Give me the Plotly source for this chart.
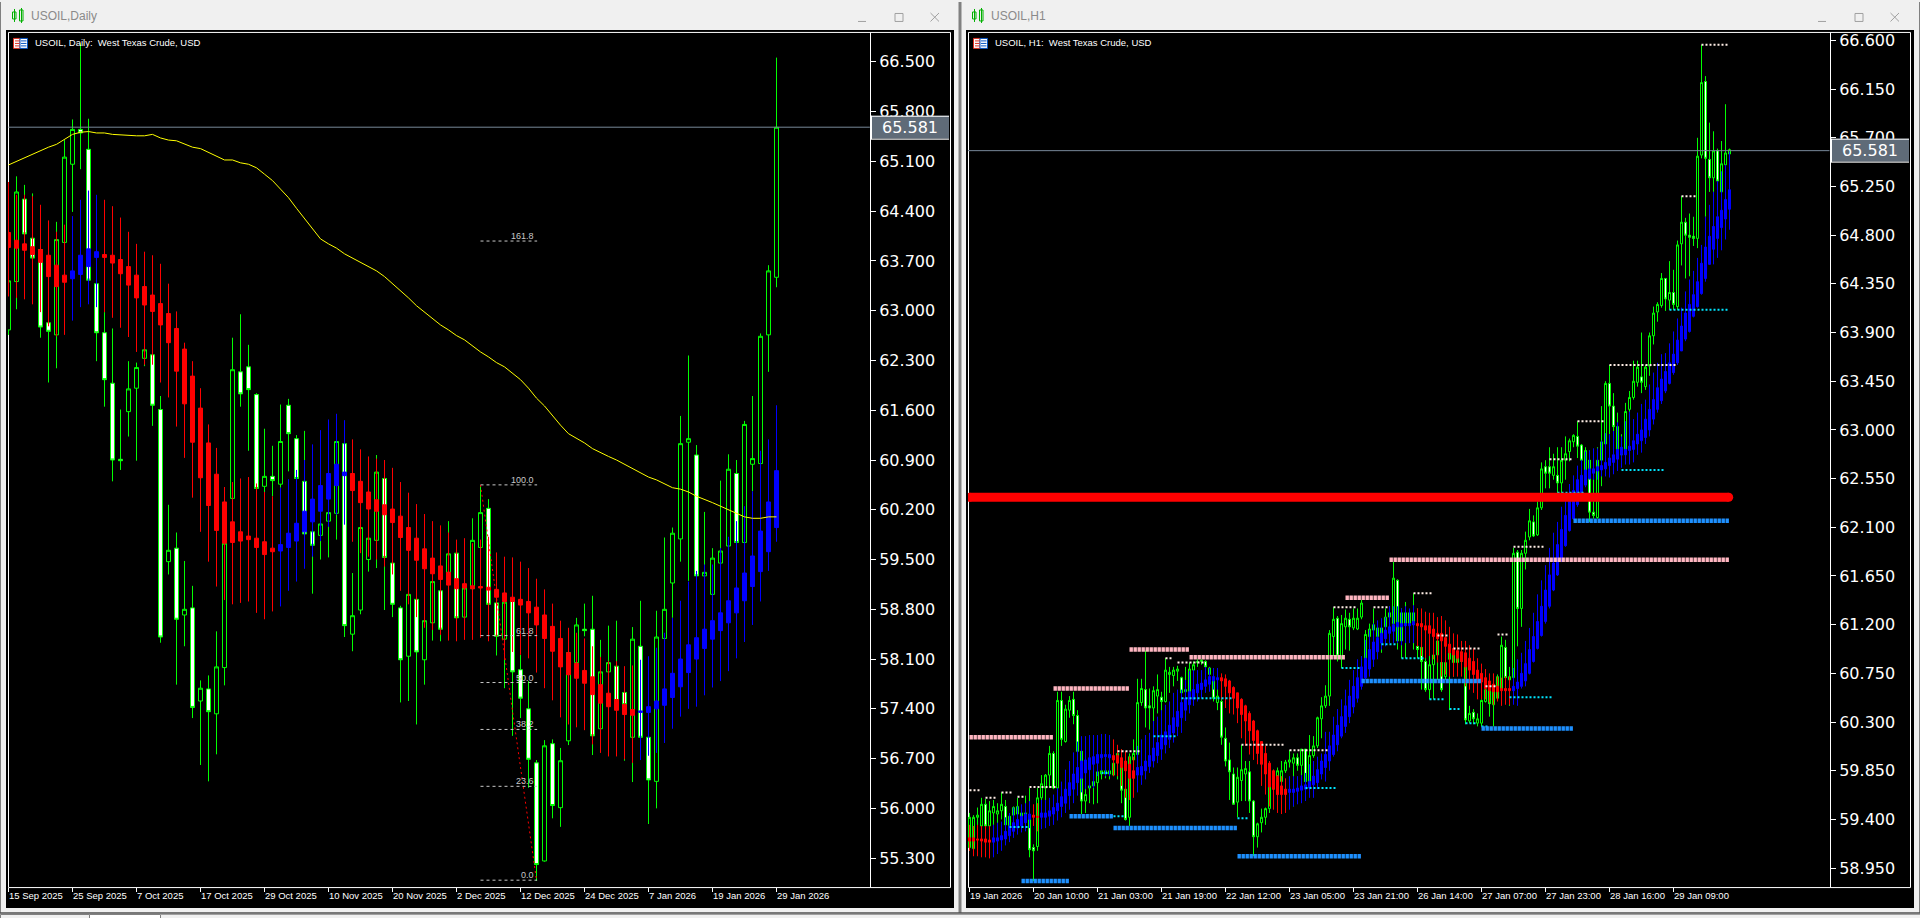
import plotly.graph_objects as go

# ---------- DAILY ----------
d_ticks = [0, 8, 16, 24, 32, 40, 48, 56, 64, 72, 80, 88, 96]
d_labels = ["15 Sep 2025", "25 Sep 2025", "7 Oct 2025", "17 Oct 2025", "29 Oct 2025", "10 Nov 2025", "20 Nov 2025",
            "2 Dec 2025", "12 Dec 2025", "24 Dec 2025", "7 Jan 2026", "19 Jan 2026", "29 Jan 2026"]
d_yticks = [66.5, 65.8, 65.1, 64.4, 63.7, 63.0, 62.3, 61.6, 60.9, 60.2, 59.5, 58.8, 58.1, 57.4, 56.7, 56.0, 55.3]

d_open = [62.73,63.41,64.57,64.02,63.86,62.83,62.66,63.96,65.06,65.55,
65.27,63.38,62.69,61.98,60.91,61.58,61.91,62.33,62.38,61.61,
59.47,59.66,58.72,58.82,57.51,57.68,57.33,57.98,60.36,62.14,
62.21,61.82,60.53,60.67,60.56,61.67,61.20,60.60,59.89,59.84,
60.04,60.15,61.13,58.45,58.79,59.50,59.77,60.64,59.45,58.82,
58.14,58.94,58.09,58.61,59.06,59.32,59.59,58.69,59.09,59.67,
60.22,58.89,58.38,58.91,57.95,57.40,56.64,55.26,56.91,56.01,
56.95,58.05,58.52,58.52,57.12,57.92,58.00,57.63,57.00,58.28,
57.00,56.38,58.39,59.17,59.79,61.15,60.97,59.27,59.01,59.45,
59.69,60.71,59.74,60.84,60.85,62.66,63.47]
d_high = [63.60,64.89,64.77,64.65,64.07,63.60,64.25,65.40,65.69,66.76,
65.70,63.43,62.98,62.75,61.61,62.29,62.27,62.48,62.40,61.80,
60.27,59.88,59.48,59.13,57.80,57.87,58.49,59.75,62.62,62.95,
62.52,61.84,61.34,61.10,61.68,61.76,61.25,61.31,60.00,60.14,
60.32,61.17,61.17,59.31,60.04,59.86,60.97,60.70,59.48,58.85,
59.06,58.99,58.69,59.25,59.11,60.04,59.63,59.15,60.08,60.53,
60.35,58.91,58.94,58.96,58.16,57.79,56.68,56.96,56.97,56.85,
58.21,58.68,58.88,58.99,58.37,58.57,58.64,57.67,58.55,58.92,
57.02,58.78,59.81,59.95,61.52,62.37,61.11,60.17,59.66,60.61,
60.98,60.90,61.45,61.80,62.68,63.64,66.56]
d_low = [62.66,63.02,63.18,63.65,62.62,61.99,62.19,63.88,64.39,64.99,
63.43,62.29,61.65,60.60,60.76,61.23,60.89,62.22,61.38,58.33,
59.29,57.74,58.28,57.27,56.61,56.38,56.76,57.73,60.32,61.65,
61.03,60.47,60.45,60.39,60.51,60.74,60.60,59.81,59.02,59.50,
59.53,59.78,58.41,58.21,58.73,59.33,59.38,58.79,58.69,57.49,
57.51,57.18,57.74,58.36,58.35,59.27,58.64,58.64,59.04,59.62,
58.84,58.15,57.69,57.02,57.27,56.29,54.98,55.25,55.86,55.74,
56.89,58.00,58.42,56.75,57.09,57.86,57.46,56.67,56.37,56.97,
55.78,56.00,58.35,58.68,59.47,59.20,59.24,59.24,58.98,59.43,
59.66,59.71,59.73,60.46,60.83,62.14,63.33]
d_close = [63.42,64.67,64.08,63.74,62.77,62.71,64.00,65.16,65.55,65.50,
63.43,62.69,62.03,60.90,60.89,61.90,62.20,62.45,61.67,58.41,
59.63,58.66,58.80,57.42,57.69,57.36,57.99,59.73,62.17,61.83,
61.89,60.50,60.67,60.61,61.16,61.27,60.64,59.86,59.70,60.00,
60.16,61.16,58.57,58.71,59.95,59.80,60.73,59.53,58.87,58.09,
59.01,58.20,58.64,59.19,58.52,59.58,58.68,59.10,59.77,60.16,
58.87,58.42,58.90,57.92,57.55,56.69,55.21,56.88,56.04,56.67,
58.19,58.58,58.50,57.02,57.92,58.05,57.51,57.46,58.38,57.00,
56.40,58.41,58.80,59.87,61.13,61.20,59.27,59.32,59.52,59.62,
60.77,59.74,61.40,60.92,62.64,63.56,65.58]

d_ha_open = [64.10,63.99,63.94,63.90,63.86,63.78,63.64,63.50,63.45,63.51,
63.62,63.75,63.79,63.78,63.72,63.62,63.50,63.34,63.22,63.10,
62.96,62.75,62.46,62.08,61.63,61.14,60.70,60.31,60.03,59.89,
59.83,59.80,59.75,59.66,59.62,59.67,59.76,59.89,60.03,60.18,
60.35,60.54,60.68,60.71,60.60,60.45,60.34,60.27,60.21,60.11,
59.95,59.80,59.65,59.52,59.41,59.32,59.23,59.16,59.13,59.12,
59.11,59.08,59.03,58.97,58.94,58.91,58.83,58.72,58.56,58.39,
58.19,58.04,57.94,57.85,57.74,57.62,57.53,57.46,57.39,57.35,
57.35,57.40,57.45,57.56,57.71,57.91,58.10,58.25,58.38,58.50,
58.61,58.75,58.92,59.12,59.33,59.61,59.95]
d_ha_close = [63.89,63.88,63.85,63.79,63.68,63.48,63.34,63.40,63.56,63.78,
63.87,63.83,63.75,63.67,63.52,63.36,63.18,63.08,62.99,62.80,
62.55,62.15,61.69,61.15,60.65,60.26,59.91,59.73,59.74,59.76,
59.78,59.67,59.57,59.61,59.71,59.87,60.01,60.18,60.35,60.54,
60.71,60.84,60.73,60.47,60.30,60.21,60.18,60.13,60.02,59.81,
59.63,59.49,59.37,59.30,59.22,59.14,59.09,59.10,59.09,59.10,
59.07,58.97,58.91,58.91,58.86,58.75,58.58,58.39,58.21,57.99,
57.88,57.83,57.76,57.60,57.48,57.43,57.38,57.32,57.31,57.37,
57.43,57.51,57.68,57.90,58.10,58.30,58.40,58.52,58.64,58.75,
58.92,59.10,59.31,59.55,59.90,60.31,60.75]
d_ha_high = [64.81,64.63,64.63,64.61,64.49,64.27,64.11,64.21,64.33,64.56,
64.69,64.63,64.56,64.47,64.31,64.11,63.94,63.83,63.78,63.66,
63.38,62.99,62.55,62.29,61.91,61.40,61.07,60.52,60.59,60.64,
60.66,60.57,60.45,60.39,60.51,60.63,60.76,60.90,61.12,61.32,
61.47,61.55,61.46,61.19,61.05,60.95,60.92,60.90,60.79,60.59,
60.44,60.28,60.14,60.04,59.98,59.88,59.78,59.80,59.73,59.78,
59.82,59.60,59.54,59.53,59.47,59.38,59.23,59.08,58.88,58.64,
58.54,58.47,58.39,58.28,58.13,58.07,58.07,58.00,58.01,58.09,
58.14,58.26,58.47,58.68,58.92,59.19,59.34,59.43,59.43,59.66,
59.82,60.04,60.25,60.46,61.03,61.19,61.67]
d_ha_low = [63.20,63.18,63.16,63.09,62.98,62.78,62.64,62.66,62.86,63.05,
63.09,63.05,62.98,62.90,62.76,62.63,62.42,62.24,62.24,61.99,
61.78,61.37,60.93,60.37,59.89,59.47,59.12,58.93,58.87,58.89,
58.91,58.75,58.66,58.77,58.84,59.06,59.19,59.37,59.54,59.76,
59.96,60.13,59.99,59.75,59.59,59.54,59.50,59.40,59.29,59.06,
58.87,58.69,58.54,58.51,58.44,58.36,58.35,58.37,58.37,58.40,
58.35,58.42,58.09,58.20,58.16,58.11,57.91,57.69,57.52,57.28,
57.18,57.14,57.10,56.90,56.78,56.73,56.73,56.69,56.64,56.68,
56.74,56.78,56.92,57.12,57.29,57.40,57.43,57.59,57.70,57.79,
57.93,58.11,58.34,58.58,58.91,59.34,59.75]

d_ma = [65.05,65.10,65.16,65.20,65.25,65.30,65.34,65.41,65.48,65.51,
65.52,65.50,65.50,65.48,65.47,65.46,65.46,65.46,65.48,65.43,
65.40,65.39,65.34,65.30,65.28,65.23,65.17,65.12,65.12,65.08,
65.06,65.01,64.92,64.83,64.71,64.59,64.44,64.30,64.16,64.01,
63.94,63.88,63.80,63.74,63.68,63.62,63.56,63.48,63.38,63.29,
63.18,63.07,62.98,62.90,62.80,62.73,62.65,62.59,62.50,62.42,
62.35,62.27,62.21,62.12,62.03,61.91,61.77,61.66,61.52,61.39,
61.27,61.21,61.14,61.06,61.00,60.95,60.90,60.84,60.78,60.72,
60.66,60.62,60.56,60.51,60.49,60.45,60.39,60.35,60.30,60.25,
60.20,60.15,60.10,60.08,60.08,60.10,60.10]

fib_levels = [63.98, 60.55, 58.43, 57.77, 57.11, 56.31, 54.99]
fib_names = ["161.8", "100.0", "61.8", "50.0", "38.2", "23.6", "0.0"]
fib_start = 59
fib_end = 66.08
fib_trend_x = [59, 66]
fib_trend_y = [60.55, 54.99]
last_price = 65.581

# ---------- H1 ----------
h_ticks = [0, 16, 32, 48, 64, 80, 96, 112, 128, 144, 160, 176]
h_labels = ["19 Jan 2026", "20 Jan 10:00", "21 Jan 03:00", "21 Jan 19:00", "22 Jan 12:00", "23 Jan 05:00",
            "23 Jan 21:00", "26 Jan 14:00", "27 Jan 07:00", "27 Jan 23:00", "28 Jan 16:00", "29 Jan 09:00"]
h_yticks = [66.6, 66.15, 65.7, 65.25, 64.8, 64.35, 63.9, 63.45, 63.0, 62.55, 62.1, 61.65, 61.2, 60.75, 60.3, 59.85, 59.4, 58.95]

h_open = [59.14,59.13,59.42,59.34,59.54,59.34,59.46,59.45,59.48,59.52,
59.32,59.44,59.45,59.46,59.39,59.42,59.14,59.15,59.60,59.69,
59.81,60.01,59.69,60.50,60.12,60.41,60.51,60.36,60.03,59.57,
59.69,59.71,59.74,59.82,59.82,59.82,59.81,59.94,59.92,59.68,
59.42,59.95,60.00,60.48,60.60,60.45,60.43,60.54,60.53,60.49,
60.74,60.73,60.77,60.71,60.58,60.58,60.78,60.85,60.86,60.86,
60.74,60.69,60.48,60.49,60.15,59.95,59.82,59.56,59.76,59.82,
59.84,59.57,59.24,59.37,59.42,59.50,59.68,59.75,59.75,59.85,
59.93,59.92,59.97,59.90,60.05,59.75,59.99,60.08,60.33,60.45,
60.54,61.09,61.26,60.91,61.18,61.25,61.17,61.16,61.27,60.80,
61.09,61.15,61.09,61.09,61.18,61.27,61.21,61.61,61.05,61.21,
61.21,61.20,61.00,60.99,60.86,60.60,60.83,60.92,60.85,60.72,
60.88,60.85,60.85,60.86,60.85,60.31,60.39,60.29,60.29,60.49,
60.61,60.46,60.52,60.60,60.99,60.69,60.71,61.87,61.35,61.86,
62.01,62.15,62.03,62.28,62.66,62.66,62.58,62.58,62.51,62.72,
62.80,62.89,62.94,62.86,62.58,62.72,62.24,62.19,62.72,62.87,
63.43,63.22,63.03,62.83,62.82,63.19,63.30,63.44,63.49,63.40,
63.59,63.87,64.09,64.15,64.40,64.20,64.27,64.14,64.72,64.92,
64.80,64.79,64.77,65.54,66.22,65.50,65.33,65.58,65.20,65.45,
65.55]
h_close = [59.42,59.42,59.44,59.54,59.34,59.48,59.52,59.48,59.54,59.35,
59.43,59.51,59.52,59.39,59.46,59.12,59.11,59.60,59.73,59.81,
60.01,59.69,60.50,60.14,60.42,60.50,60.36,60.03,59.57,59.63,
59.71,59.75,59.84,59.85,59.85,59.85,59.92,60.01,59.67,59.40,
59.98,60.01,60.48,60.61,60.43,60.43,60.59,60.60,60.49,60.78,
60.76,60.78,60.79,60.57,60.60,60.79,60.83,60.86,60.87,60.81,
60.80,60.52,60.54,60.16,59.94,59.84,59.54,59.79,59.86,59.87,
59.57,59.24,59.36,59.42,59.50,59.75,59.75,59.85,59.85,59.93,
59.95,59.97,59.90,60.05,59.75,59.99,60.08,60.34,60.45,60.54,
61.12,61.25,60.91,61.21,61.26,61.18,61.26,61.26,61.40,61.11,
61.16,61.20,61.17,61.17,61.27,61.31,61.63,61.05,61.31,61.31,
61.31,61.31,60.97,60.86,60.60,60.83,60.92,61.05,60.60,60.85,
60.94,60.92,60.92,60.91,60.32,60.38,60.33,60.33,60.50,60.60,
60.47,60.63,60.72,61.01,60.71,60.72,61.86,61.35,61.86,61.98,
62.16,62.02,62.28,62.64,62.60,62.60,62.66,62.51,62.72,62.78,
62.90,62.95,62.85,62.72,62.81,62.24,62.21,62.72,62.89,63.43,
63.22,63.03,62.82,62.77,63.17,63.30,63.45,63.58,63.44,63.58,
63.87,64.08,64.16,64.40,64.21,64.27,64.16,64.71,64.92,64.80,
64.78,64.77,65.53,66.21,65.51,65.33,65.58,65.30,65.46,65.56,
65.59]
h_high = [59.46,59.44,59.51,59.60,59.59,59.57,59.58,59.55,59.65,59.58,
59.45,59.52,59.60,59.51,59.62,59.69,59.17,59.69,59.81,59.82,
60.08,60.03,60.58,60.58,60.46,60.54,60.58,60.41,60.08,59.72,
59.74,59.83,59.85,59.86,59.88,59.88,59.94,60.03,60.05,59.98,
60.01,60.14,60.70,60.70,60.96,60.61,60.63,60.74,60.58,60.89,
60.81,60.81,60.82,60.72,60.81,60.85,60.86,60.88,60.88,60.87,
60.81,60.74,60.69,60.55,60.25,60.11,59.88,59.88,60.09,59.94,
59.94,59.58,59.37,59.50,59.51,59.75,59.86,59.88,59.94,59.95,
60.04,60.01,60.01,60.05,60.05,60.18,60.17,60.35,60.53,60.64,
61.15,61.36,61.28,61.29,61.34,61.31,61.35,61.35,61.43,61.15,
61.21,61.35,61.20,61.25,61.35,61.37,61.78,61.62,61.35,61.41,
61.34,61.49,61.35,61.01,61.00,60.95,60.94,61.09,61.06,61.00,
60.95,61.09,60.95,60.92,60.94,60.45,60.42,60.38,60.51,60.63,
60.66,60.72,60.74,61.09,61.06,60.81,61.91,61.89,61.89,62.06,
62.27,62.21,62.34,62.70,62.72,62.84,62.78,62.84,62.84,62.94,
62.92,62.96,63.08,62.87,62.84,62.81,62.81,62.84,63.22,63.45,
63.60,63.34,63.16,62.96,63.25,63.36,63.64,63.64,63.90,63.60,
63.90,64.14,64.18,64.45,64.40,64.56,64.48,64.75,65.16,64.96,
65.00,64.97,65.70,66.56,66.27,65.84,65.76,65.60,65.67,66.01,
65.60]
h_low = [59.11,59.11,59.28,59.32,59.32,59.31,59.35,59.35,59.40,59.26,
59.26,59.32,59.35,59.34,59.32,59.05,58.83,59.11,59.42,59.42,
59.69,59.68,59.49,60.08,60.11,60.34,60.28,60.01,59.45,59.46,
59.55,59.54,59.55,59.77,59.78,59.77,59.80,59.77,59.55,59.39,
59.34,59.85,59.97,60.45,60.25,60.23,60.15,60.38,60.38,60.48,
60.57,60.63,60.68,60.55,60.57,60.54,60.72,60.81,60.83,60.80,
60.72,60.49,60.41,60.09,59.89,59.58,59.54,59.42,59.57,59.57,
59.46,59.06,59.14,59.28,59.35,59.46,59.65,59.68,59.65,59.83,
59.88,59.52,59.85,59.77,59.65,59.68,59.97,60.06,60.15,60.43,
60.45,60.91,60.86,60.80,60.97,60.96,61.15,61.15,61.25,60.75,
60.94,61.09,60.97,60.94,61.15,61.18,61.12,60.97,60.89,60.89,
61.18,60.97,60.89,60.60,60.58,60.51,60.51,60.69,60.58,60.69,
60.41,60.72,60.80,60.81,60.28,60.29,60.28,60.26,60.26,60.48,
60.35,60.26,60.51,60.58,60.66,60.45,60.69,61.00,61.18,61.71,
61.98,62.01,62.02,62.26,62.46,62.46,62.54,62.41,62.41,62.54,
62.71,62.84,62.74,62.64,62.57,62.15,62.18,62.18,62.48,62.84,
62.96,62.93,62.81,62.74,62.72,63.11,63.28,63.40,63.34,63.37,
63.50,63.79,64.00,64.13,64.10,64.11,64.11,64.11,64.52,64.40,
64.42,64.70,64.68,65.51,64.97,65.20,65.20,65.19,65.19,65.28,
65.55]
h_ha_open = [59.23,59.23,59.22,59.22,59.22,59.21,59.19,59.20,59.21,59.22,
59.25,59.29,59.32,59.34,59.37,59.40,59.44,59.43,59.42,59.42,
59.43,59.45,59.48,59.52,59.55,59.62,59.68,59.74,59.78,59.83,
59.86,59.91,59.92,59.97,59.98,59.97,59.99,59.99,59.97,59.94,
59.91,59.85,59.81,59.81,59.85,59.89,59.94,59.99,60.05,60.09,
60.14,60.20,60.26,60.34,60.41,60.46,60.51,60.57,60.60,60.63,
60.65,60.68,60.69,60.71,60.70,60.68,60.62,60.57,60.51,60.45,
60.38,60.31,60.22,60.12,60.01,59.92,59.85,59.80,59.71,59.68,
59.65,59.65,59.66,59.67,59.68,59.69,59.72,59.74,59.82,59.88,
59.94,60.00,60.09,60.17,60.26,60.35,60.44,60.52,60.63,60.71,
60.79,60.88,60.95,61.03,61.07,61.12,61.14,61.18,61.18,61.19,
61.19,61.20,61.21,61.21,61.19,61.19,61.16,61.12,61.12,61.08,
61.02,60.98,60.96,60.95,60.94,60.89,60.86,60.78,60.75,60.71,
60.68,60.65,60.63,60.61,60.61,60.61,60.59,60.61,60.63,60.68,
60.75,60.86,60.98,61.10,61.23,61.37,61.52,61.66,61.80,61.93,
62.07,62.18,62.31,62.40,62.49,62.55,62.60,62.62,62.63,62.64,
62.67,62.70,62.73,62.77,62.77,62.81,62.82,62.87,62.90,62.93,
63.00,63.10,63.19,63.27,63.36,63.43,63.53,63.62,63.73,63.84,
63.91,64.05,64.14,64.26,64.40,64.53,64.67,64.77,64.87,64.95,
65.04]
h_ha_close = [59.20,59.20,59.21,59.20,59.19,59.19,59.23,59.23,59.25,59.29,
59.34,59.37,59.40,59.43,59.45,59.45,59.42,59.42,59.46,59.46,
59.48,59.51,59.55,59.61,59.68,59.74,59.82,59.88,59.94,59.95,
59.97,59.98,60.00,60.00,60.00,60.00,59.95,59.92,59.88,59.85,
59.78,59.78,59.88,59.89,59.94,59.99,60.06,60.11,60.18,60.21,
60.27,60.34,60.40,60.48,60.52,60.58,60.60,60.65,60.66,60.69,
60.72,60.72,60.71,60.68,60.63,60.57,60.52,60.43,60.37,60.31,
60.22,60.13,60.01,59.91,59.82,59.70,59.68,59.63,59.63,59.63,
59.68,59.68,59.69,59.71,59.72,59.75,59.80,59.86,59.94,60.00,
60.08,60.18,60.27,60.35,60.45,60.54,60.63,60.71,60.81,60.89,
60.97,61.04,61.08,61.12,61.15,61.18,61.20,61.22,61.21,61.21,
61.21,61.23,61.19,61.18,61.15,61.12,61.09,61.07,61.05,61.00,
60.94,60.92,60.89,60.86,60.81,60.78,60.74,60.69,60.67,60.61,
60.59,60.58,60.58,60.59,60.59,60.59,60.63,60.67,60.75,60.84,
60.97,61.09,61.23,61.37,61.52,61.66,61.77,61.94,62.08,62.21,
62.34,62.44,62.54,62.58,62.63,62.64,62.64,62.66,62.67,62.70,
62.74,62.77,62.82,62.84,62.82,62.85,62.90,62.96,63.00,63.10,
63.19,63.28,63.39,63.47,63.54,63.62,63.70,63.83,63.96,64.08,
64.16,64.25,64.37,64.54,64.69,64.79,64.88,64.97,65.03,65.13,
65.22]
h_ha_high = [59.35,59.34,59.35,59.34,59.34,59.34,59.35,59.37,59.38,59.42,
59.46,59.51,59.52,59.54,59.55,59.57,59.54,59.55,59.58,59.58,
59.60,59.63,59.69,59.75,59.86,59.94,60.02,60.12,60.17,60.17,
60.18,60.18,60.18,60.19,60.19,60.18,60.14,60.09,60.05,60.03,
59.98,59.98,60.08,60.14,60.18,60.20,60.31,60.35,60.41,60.46,
60.49,60.57,60.60,60.60,60.69,60.77,60.78,60.78,60.78,60.81,
60.80,60.80,60.80,60.75,60.74,60.69,60.63,60.57,60.52,60.46,
60.40,60.32,60.23,60.12,60.08,59.94,59.86,59.81,59.80,59.78,
59.80,59.80,59.80,59.81,59.83,59.91,59.94,59.98,60.01,60.21,
60.21,60.35,60.42,60.51,60.60,60.69,60.78,60.88,60.91,61.06,
61.15,61.21,61.24,61.26,61.27,61.37,61.37,61.37,61.35,61.37,
61.35,61.38,61.35,61.35,61.32,61.31,61.31,61.27,61.28,61.24,
61.18,61.12,61.11,61.05,61.05,61.01,60.98,60.89,60.84,60.79,
60.75,60.75,60.72,60.71,60.72,60.72,60.80,60.88,60.94,61.05,
61.17,61.31,61.48,61.61,61.75,61.91,62.05,62.15,62.29,62.40,
62.50,62.58,62.67,62.72,62.80,62.81,62.83,62.83,62.90,62.97,
62.96,62.99,63.07,62.94,63.08,63.17,63.10,63.16,63.24,63.28,
63.42,63.53,63.62,63.70,63.71,63.80,63.91,64.03,64.13,64.28,
64.39,64.47,64.59,64.71,64.97,65.08,65.20,65.30,65.39,65.45,
65.57]
h_ha_low = [59.11,59.06,59.06,59.05,59.05,59.04,59.05,59.08,59.11,59.16,
59.19,59.23,59.26,59.28,59.29,59.32,59.34,59.29,59.31,59.32,
59.34,59.35,59.39,59.42,59.46,59.49,59.55,59.62,59.65,59.68,
59.69,59.69,59.80,59.85,59.80,59.80,59.80,59.80,59.71,59.60,
59.58,59.60,59.65,59.72,59.77,59.83,59.88,59.92,59.95,60.01,
60.06,60.11,60.17,60.20,60.31,60.38,60.45,60.49,60.52,60.57,
60.58,60.60,60.60,60.51,60.43,60.38,60.37,60.29,60.15,60.08,
60.00,59.95,59.91,59.71,59.63,59.52,59.49,59.46,59.45,59.46,
59.49,59.52,59.54,59.55,59.57,59.60,59.60,59.68,59.77,59.75,
59.85,59.98,60.03,60.15,60.20,60.29,60.38,60.48,60.60,60.69,
60.72,60.81,60.88,60.97,61.00,61.03,61.03,61.03,61.01,61.03,
61.03,61.03,61.00,60.91,60.89,60.91,60.88,60.85,60.72,60.74,
60.72,60.72,60.72,60.72,60.63,60.60,60.57,60.51,60.51,60.51,
60.48,60.46,60.49,60.45,60.46,60.46,60.46,60.45,60.61,60.63,
60.74,60.85,60.97,61.09,61.21,61.35,61.51,61.65,61.78,61.92,
62.06,62.17,62.29,62.38,62.47,62.54,62.54,62.54,62.57,62.57,
62.56,62.59,62.62,62.65,62.68,62.68,62.70,62.77,62.79,62.87,
62.94,63.05,63.16,63.24,63.34,63.42,63.51,63.60,63.73,63.82,
63.90,64.04,64.13,64.25,64.37,64.53,64.53,64.59,64.66,64.76,
64.85]

res_strong_start = [0, 21, 40, 55, 94, 105]
res_strong_end = [21, 40, 55, 94, 105, 190]
res_strong_price = [60.16, 60.61, 60.97, 60.90, 61.45, 61.80]
sup_strong_start = [13, 25, 36, 67, 98, 128, 151]
sup_strong_end = [25, 36, 67, 98, 128, 151, 190]
sup_strong_price = [58.83, 59.43, 59.32, 59.06, 60.68, 60.24, 62.16]
res_weak_start = [0,4,8,12,15,37,49,52,68,80,91,101,111,117,121,129,132,136,145,152,160,178,183]
res_weak_end = [3,7,11,14,22,43,51,59,79,90,97,105,116,120,128,132,135,144,151,159,177,182,190]
res_weak_price = [59.67,59.60,59.65,59.61,59.70,60.03,60.89,60.85,60.09,60.04,61.36,61.36,61.49,61.10,60.98,60.63,61.11,61.92,62.73,63.08,63.60,65.16,66.56]
sup_weak_start = [10,33,36,46,53,67,84,93,103,108,115,120,124,128,135,147,163,175]
sup_weak_end = [15,35,39,52,66,70,92,98,107,114,119,123,127,130,146,154,174,190]
sup_weak_price = [59.33,59.83,59.43,60.17,60.52,59.41,59.69,60.80,61.02,60.89,60.51,60.42,60.29,60.26,60.53,62.42,62.63,64.11]
key_level_x = [0, 189.8]
key_level_y = [62.378, 62.378]

# ---------- helpers ----------
W, H = 1920, 918
X = lambda p: p / W
Y = lambda p: 1 - p / H
GREEN, RED, BLUE = "#00ff00", "#ff0000", "#0000ff"

def candles(x, o, h, l, c, xa, ya, upline, upfill, dnline, dnfill):
    return go.Candlestick(x=x, open=o, high=h, low=l, close=c, xaxis=xa, yaxis=ya, showlegend=False, hoverinfo="skip",
                          increasing=dict(line=dict(color=upline, width=1), fillcolor=upfill),
                          decreasing=dict(line=dict(color=dnline, width=1), fillcolor=dnfill))

def segments(s, e, p):
    xs, ys = [], []
    for a, b, v in zip(s, e, p):
        xs += [a, b, None]
        ys += [v, v, None]
    return xs, ys

fig = go.Figure()
dx = list(range(len(d_open)))
hx = list(range(len(h_open)))

# daily chart
fig.add_trace(candles(dx, d_open, d_high, d_low, d_close, "x", "y", GREEN, "#000000", GREEN, "#ffffff"))
fig.add_trace(candles(dx, d_ha_open, d_ha_high, d_ha_low, d_ha_close, "x", "y", BLUE, BLUE, RED, RED))
fig.add_trace(go.Scatter(x=list(range(len(d_ma))), y=d_ma, mode="lines", line=dict(color="#ffff00", width=1), xaxis="x", yaxis="y", showlegend=False, hoverinfo="skip"))
fig.add_trace(go.Scatter(x=fib_trend_x, y=fib_trend_y, mode="lines", line=dict(color=RED, width=1, dash="2px,3px"), xaxis="x", yaxis="y", showlegend=False, hoverinfo="skip"))
fx, fy = segments([fib_start] * len(fib_levels), [fib_end] * len(fib_levels), fib_levels)
fig.add_trace(go.Scatter(x=fx, y=fy, mode="lines", line=dict(color="#c8c8c8", width=1, dash="3px,3px"), xaxis="x", yaxis="y", showlegend=False, hoverinfo="skip"))
fig.add_trace(go.Scatter(x=[0, 107.67], y=[last_price, last_price], mode="lines", line=dict(color="#778899", width=1), xaxis="x", yaxis="y", showlegend=False, hoverinfo="skip"))

# hourly chart
fig.add_trace(candles(hx, h_open, h_high, h_low, h_close, "x2", "y2", GREEN, "#000000", GREEN, "#ffffff"))
fig.add_trace(candles(hx, h_ha_open, h_ha_high, h_ha_low, h_ha_close, "x2", "y2", BLUE, BLUE, RED, RED))
for s, e, p, col, wd, dash in [
    (res_weak_start, res_weak_end, res_weak_price, "#ffeee6", 2, "2px,2px"),
    (sup_weak_start, sup_weak_end, sup_weak_price, "#00e5ff", 2, "2px,2px"),
    (res_strong_start, res_strong_end, res_strong_price, "#ffb6c1", 4.5, "3.4px,0.6px"),
    (sup_strong_start, sup_strong_end, sup_strong_price, "#1e90ff", 4.5, "3.4px,0.6px"),
]:
    sx, sy = segments(s, e, p)
    fig.add_trace(go.Scatter(x=sx, y=sy, mode="lines", line=dict(color=col, width=wd, dash=dash), xaxis="x2", yaxis="y2", showlegend=False, hoverinfo="skip"))
fig.add_trace(go.Scatter(x=key_level_x, y=key_level_y, mode="lines+markers", line=dict(color=RED, width=9), marker=dict(color=RED, size=9), xaxis="x2", yaxis="y2", showlegend=False, hoverinfo="skip"))
fig.add_trace(go.Scatter(x=[-1, 215], y=[last_price, last_price], mode="lines", line=dict(color="#778899", width=1), xaxis="x2", yaxis="y2", showlegend=False, hoverinfo="skip"))

shapes, notes = [], []

def rect(x0, y0, x1, y1, fill=None, line=None, lw=1, layer="below"):
    shapes.append(dict(type="rect", xref="paper", yref="paper", x0=X(x0), x1=X(x1), y0=Y(y1), y1=Y(y0),
                       fillcolor=fill or "rgba(0,0,0,0)", line=dict(color=line or "rgba(0,0,0,0)", width=lw if line else 0), layer=layer))

def seg(x0, y0, x1, y1, col, lw=1, layer="below"):
    shapes.append(dict(type="line", xref="paper", yref="paper", x0=X(x0), x1=X(x1), y0=Y(y0), y1=Y(y1), line=dict(color=col, width=lw), layer=layer))

def text(x, y, t, size, col, family="Liberation Sans", anchor="left", ya="middle"):
    notes.append(dict(xref="paper", yref="paper", x=X(x), y=Y(y), text=t, showarrow=False, xanchor=anchor, yanchor=ya,
                      font=dict(family=family, size=size, color=col), xshift=0, yshift=0))

def window(ox, title, sub, tag_y):
    rect(ox + 6, 28, ox + 954, 908, fill="#000000")
    rect(ox + 8.5, 30.5, ox + 950.5, 887.5, fill="#000000", line="#ffffff", lw=1)
    seg(ox + 870.5, 30.5, ox + 870.5, 887.5, "#ffffff")
    # title bar icon
    for a, t, b in [(14, 10, 17), (21, 8, 19)]:
        rect(ox + a - 1.5, t, ox + a + 2, b, line="#00b000", lw=1)
    seg(ox + 14.5, 7, ox + 14.5, 20, "#00b000")
    seg(ox + 21.5, 6, ox + 21.5, 21, "#00b000")
    text(ox + 29, 14, title, 12, "#8a8a8a", family="Liberation Sans")
    # window buttons
    seg(ox + 858, 19.5, ox + 866, 19.5, "#a0a0a0")
    rect(ox + 895, 11.5, ox + 903, 19.5, line="#a0a0a0")
    seg(ox + 930.5, 11, ox + 939, 19.5, "#a0a0a0")
    seg(ox + 930.5, 19.5, ox + 939, 11, "#a0a0a0")
    # chart flag icon
    rect(ox + 13.5, 36.5, ox + 20, 46.5, fill="#ffffff", line="#e03020")
    rect(ox + 20, 36.5, ox + 27.5, 46.5, fill="#ffffff", line="#0050c0")
    for yy in (39, 41.5, 44):
        seg(ox + 15, yy, ox + 19.5, yy, "#e03020")
        seg(ox + 21, yy, ox + 26.5, yy, "#0050c0")
    text(ox + 33, 41, sub, 9.5, "#ffffff")
    # last price tag
    rect(ox + 871, tag_y, ox + 949, tag_y + 23, fill="#5f6b78", layer="above")
    seg(ox + 871, tag_y + 0.5, ox + 949, tag_y + 0.5, "#ffffff", layer="above")
    seg(ox + 871, tag_y + 23.5, ox + 949, tag_y + 23.5, "#ffffff", layer="above")
    seg(ox + 871.5, tag_y, ox + 871.5, tag_y + 23.5, "#ffffff", layer="above")
    text(ox + 910, tag_y + 12, "65.581", 16, "#ffffff", family="DejaVu Sans", anchor="center")

rect(0, 0, 1920, 918, fill="#f0f0f0")
seg(0.5, 0, 0.5, 913, "#808080", 1)
seg(960, 0, 960, 913, "#808080", 3)
seg(1919.5, 0, 1919.5, 913, "#808080", 1)
seg(0, 913, 1920, 913, "#505050", 1.5)
rect(0.5, 914.5, 89.5, 919, fill="#f0f0f0", line="#808080")
rect(89.5, 914.5, 160.5, 919, fill="#ffffff", line="#808080")
seg(160.5, 914.5, 1920, 914.5, "#a0a0a0")
window(0, "USOIL,Daily", "USOIL, Daily:  West Texas Crude, USD", 114)
window(960, "USOIL,H1", "USOIL, H1:  West Texas Crude, USD", 137)

for lv, nm in zip(fib_levels, fib_names):
    notes.append(dict(xref="x", yref="y", x=fib_end - 0.3, y=lv, text=nm, showarrow=False, xanchor="right", yanchor="bottom",
                      font=dict(family="Liberation Sans", size=9, color="#c8c8c8"), yshift=-1, borderpad=0))

axis_font_y = dict(family="DejaVu Sans", size=16, color="#ffffff")
axis_font_x = dict(family="Liberation Sans", size=9.5, color="#ffffff")
common_x = dict(showgrid=False, zeroline=False, showline=False, ticks="outside", ticklen=4, tickcolor="#ffffff", tickmode="array",
                tickfont=axis_font_x, ticklabelposition="outside right", rangeslider=dict(visible=False), fixedrange=True, type="linear", tickwidth=1)
common_y = dict(showgrid=False, zeroline=False, showline=False, ticks="outside", ticklen=5, tickcolor="#ffffff", tickmode="array", side="right",
                tickfont=axis_font_y, fixedrange=True, type="linear", tickwidth=1)

fig.update_layout(
    width=W, height=H, autosize=False, margin=dict(l=0, r=0, t=0, b=0), paper_bgcolor="#f0f0f0", plot_bgcolor="rgba(0,0,0,0)",
    boxmode="overlay", boxgap=0.5, boxgroupgap=0, showlegend=False, hovermode=False, shapes=shapes, annotations=notes,
    xaxis=dict(domain=[X(8), X(870)], range=[-0.0625, 107.6875], tickvals=d_ticks, ticktext=d_labels, anchor="y", **common_x),
    yaxis=dict(domain=[Y(887), Y(31)], range=[54.893, 66.907], tickvals=d_yticks, ticktext=[f"{v:.3f}" for v in d_yticks], anchor="x", **common_y),
    xaxis2=dict(domain=[X(968), X(1830)], range=[-0.375, 215.125], tickvals=h_ticks, ticktext=h_labels, anchor="y2", **common_x),
    yaxis2=dict(domain=[Y(887), Y(31)], range=[58.775, 66.669], tickvals=h_yticks, ticktext=[f"{v:.3f}" for v in h_yticks], anchor="x2", **common_y),
)

fig.write_html("out.html", config={"displayModeBar": False}, post_script="document.body.style.margin='0';document.documentElement.style.overflow='hidden';")
